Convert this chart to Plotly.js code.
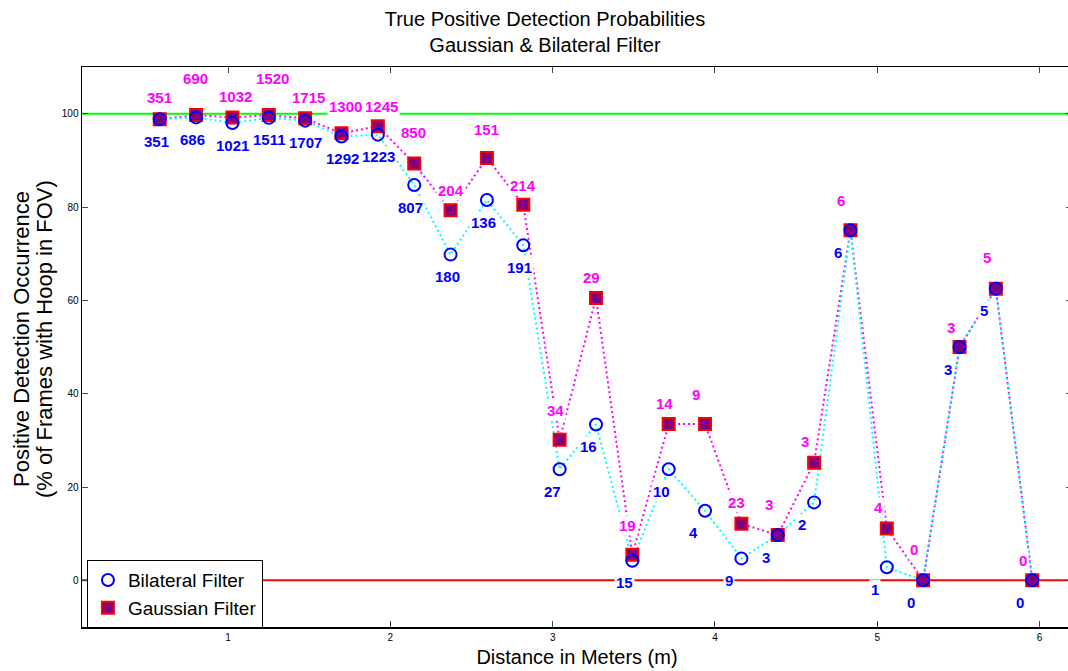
<!DOCTYPE html>
<html>
<head>
<meta charset="utf-8">
<script src="https://cdn.plot.ly/plotly-3.0.1.min.js"></script>
<style>
html,body{margin:0;padding:0;overflow:hidden;background:#fff;}
#chart{width:1080px;height:671px;}
</style>
</head>
<body>
<div id="chart"></div>
<script>
// Distance (m) of each measurement
const distance = [0.579, 0.803, 1.027, 1.251, 1.475, 1.699, 1.923, 2.147, 2.371, 2.595,
                  2.819, 3.043, 3.267, 3.491, 3.715, 3.939, 4.163, 4.387, 4.611, 4.835,
                  5.059, 5.283, 5.507, 5.731, 5.955];
// True positive detection probability (%)
const gaussianPct = [98.8, 99.7, 99.2, 99.7, 99.0, 95.8, 97.3, 89.3, 79.3, 90.5,
                     80.5, 30.1, 60.5, 5.5, 33.5, 33.5, 12.1, 9.7, 25.2, 75.0,
                     11.1, 0, 50.0, 62.5, 0];
const bilateralPct = [98.8, 99.2, 98.0, 99.1, 98.5, 95.1, 95.5, 84.7, 69.8, 81.5,
                      71.8, 23.8, 33.4, 4.2, 23.8, 14.9, 4.7, 9.7, 16.7, 75.0,
                      2.8, 0, 50.0, 62.5, 0];
// Detection counts shown as labels
const gaussianCounts = [351, 690, 1032, 1520, 1715, 1300, 1245, 850, 204, 151,
                        214, 34, 29, 19, 14, 9, 23, 3, 3, 6, 4, 0, 3, 5, 0];
const bilateralCounts = [351, 686, 1021, 1511, 1707, 1292, 1223, 807, 180, 136,
                         191, 27, 16, 15, 10, 4, 9, 3, 2, 6, 1, 0, 3, 5, 0];
// Reference lines
const idealLevel = 100;
const zeroLevel = 0;
const xTicks = [1, 2, 3, 4, 5, 6];
const yTicks = [0, 20, 40, 60, 80, 100];
const yTitleLines = ['Positive Detection Occurrence', '(% of Frames with Hoop in FOV)'];

// label placement (pixels) - layout only
const gaussLift = [22, 37, 21, 37, 21, 27, 20, 31, 20, 29, 19, 29, 21, 29, 21, 30, 21, 31, 21, 30, 21, 31, 20, 31, 20];
const bilDrop = -22;

const FONT = 'Liberation Sans, Arial, Helvetica, sans-serif';
const MAG = '#ff00ff', CYAN = '#00ffff', BLUE = '#0000ff', PURPLE = '#800080', RED = '#ff0000';

const traces = [
  {x: distance, y: gaussianPct, mode: 'lines', line: {color: MAG, width: 2, dash: '2px,3px'},
   showlegend: false, hoverinfo: 'skip'},
  {x: distance, y: bilateralPct, mode: 'lines', line: {color: CYAN, width: 2, dash: '2px,3px'},
   showlegend: false, hoverinfo: 'skip'},
  {x: distance, y: gaussianPct, mode: 'markers', name: 'Gaussian Filter', legendrank: 2,
   marker: {symbol: 'square', size: 12, color: PURPLE, line: {color: RED, width: 2}}},
  {x: distance, y: bilateralPct, mode: 'markers', name: 'Bilateral Filter', legendrank: 1,
   marker: {symbol: 'circle', size: 12, color: 'rgba(0,0,0,0)', line: {color: BLUE, width: 2}}}
];

const annotations = [];
for (let i = 0; i < distance.length; i++) {
  annotations.push({x: distance[i], y: gaussianPct[i], xref: 'x', yref: 'y', text: String(gaussianCounts[i]),
    showarrow: false, xanchor: 'left', yanchor: 'middle', xshift: -15, yshift: gaussLift[i],
    font: {family: FONT, size: 15, color: MAG, weight: 'bold'}, bgcolor: '#ffffff', borderpad: 1});
  annotations.push({x: distance[i], y: bilateralPct[i], xref: 'x', yref: 'y', text: String(bilateralCounts[i]),
    showarrow: false, xanchor: 'left', yanchor: 'middle', xshift: -18, yshift: bilDrop,
    font: {family: FONT, size: 15, color: BLUE, weight: 'bold'}, bgcolor: '#ffffff', borderpad: 1});
}
// y-axis title, two lines
annotations.push({xref: 'paper', yref: 'paper', x: 0, y: 0.5, xshift: -61, yshift: 8, textangle: -90,
  xanchor: 'center', yanchor: 'middle', showarrow: false, text: yTitleLines[0],
  font: {family: FONT, size: 22, color: '#000'}});
annotations.push({xref: 'paper', yref: 'paper', x: 0, y: 0.5, xshift: -38, yshift: 8, textangle: -90,
  xanchor: 'center', yanchor: 'middle', showarrow: false, text: yTitleLines[1],
  font: {family: FONT, size: 22, color: '#000'}});

const layout = {
  width: 1080, height: 671,
  margin: {l: 82, r: 8, t: 67, b: 44, pad: 0},
  paper_bgcolor: '#ffffff', plot_bgcolor: '#ffffff',
  font: {family: FONT, color: '#000'},
  title: {text: 'True Positive Detection Probabilities<br>Gaussian & Bilateral Filter',
    font: {family: FONT, size: 20, color: '#000'},
    xref: 'container', x: 0.5046, xanchor: 'center', yref: 'container', y: 0.961, yanchor: 'top'},
  xaxis: {range: [0.1, 6.2], tickvals: xTicks, ticktext: xTicks.map(String),
    ticks: 'inside', ticklen: 6, tickcolor: '#444', tickwidth: 1,
    showline: true, linecolor: '#000', linewidth: 1.5, mirror: 'ticks',
    showgrid: false, zeroline: false, tickfont: {size: 10, color: '#000'},
    title: {text: 'Distance in Meters (m)', font: {size: 20, color: '#000'}, standoff: 8}},
  yaxis: {range: [-10, 110], tickvals: yTicks, ticktext: yTicks.map(String),
    ticks: 'inside', ticklen: 6, tickcolor: '#444', tickwidth: 1,
    showline: true, linecolor: '#000', linewidth: 1.5, mirror: 'ticks',
    showgrid: false, zeroline: false, tickfont: {size: 10, color: '#000'}},
  shapes: [
    {type: 'line', xref: 'paper', x0: 0, x1: 1, yref: 'y', y0: idealLevel, y1: idealLevel,
     line: {color: '#00ff00', width: 2}, layer: 'below'},
    {type: 'line', xref: 'paper', x0: 0, x1: 1, yref: 'y', y0: zeroLevel, y1: zeroLevel,
     line: {color: RED, width: 2}, layer: 'below'}
  ],
  legend: {x: 0.005, y: -0.002, xanchor: 'left', yanchor: 'bottom', bgcolor: '#ffffff',
    bordercolor: '#000', borderwidth: 1, font: {size: 19, color: '#000'}, tracegroupgap: 0},
  annotations: annotations,
  showlegend: true
};

Plotly.newPlot('chart', traces, layout, {displayModeBar: false, staticPlot: true});
</script>
</body>
</html>
